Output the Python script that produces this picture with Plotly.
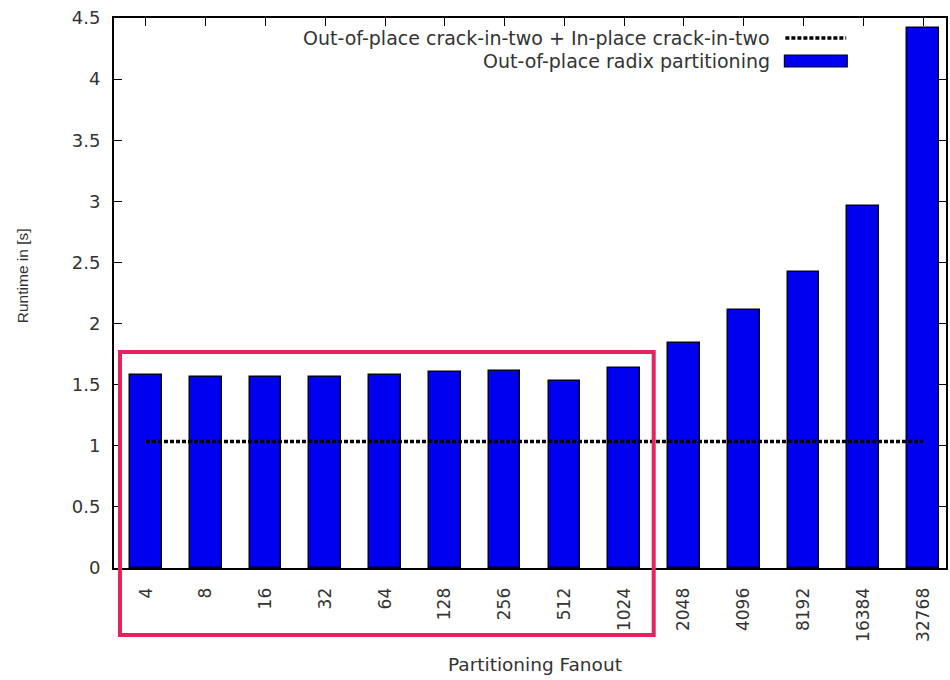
import plotly.graph_objects as go

# Partitioning fanout (x categories) and measured runtimes in seconds
fanouts = ["4", "8", "16", "32", "64", "128", "256", "512", "1024",
           "2048", "4096", "8192", "16384", "32768"]
radix_runtime = [1.58, 1.56, 1.56, 1.56, 1.58, 1.60, 1.61, 1.53, 1.64,
                 1.84, 2.11, 2.42, 2.965, 4.42]
crack_runtime = 1.035  # fanout-independent baseline

series_names = ["Out-of-place crack-in-two + In-place crack-in-two",
                "Out-of-place radix partitioning"]
y_ticks = [0, 0.5, 1, 1.5, 2, 2.5, 3, 3.5, 4, 4.5]

FONT = "DejaVu Sans"
TXT = "#333333"
BLUE = "#0000F0"

xpos = list(range(len(fanouts)))

fig = go.Figure()
fig.add_trace(go.Bar(
    x=xpos, y=radix_runtime, width=0.53,
    marker=dict(color=BLUE, line=dict(color="#000020", width=1.5)),
    name=series_names[1], showlegend=False,
))
fig.add_trace(go.Scatter(
    x=[xpos[0], xpos[-1]], y=[crack_runtime, crack_runtime],
    mode="lines", line=dict(color="black", width=3.5, dash="4px,2px"),
    name=series_names[0], showlegend=False,
))

# Plot area: 114..948 px horizontally, 18..568 px vertically
L, R, T, B = 114, 948, 18, 568
W, H = R - L, B - T

def px(x):
    return (x - L) / W

def py(y):
    return (B - y) / H

shapes = [
    # legend samples
    dict(type="line", xref="paper", yref="paper",
         x0=px(787), x1=px(848), y0=py(38), y1=py(38),
         line=dict(color="black", width=3.5, dash="4px,2px")),
    dict(type="rect", xref="paper", yref="paper",
         x0=px(786), x1=px(849), y0=py(67), y1=py(55),
         fillcolor=BLUE, line=dict(color="#000020", width=1.2)),
    # highlight box around the low fanouts
    dict(type="rect", xref="paper", yref="paper",
         x0=px(120), x1=px(655), y0=py(635), y1=py(352),
         line=dict(color="#E8215F", width=4), fillcolor="rgba(0,0,0,0)"),
]

annotations = [
    dict(text=series_names[0], xref="paper", yref="paper",
         x=px(774), y=py(38), xanchor="right", yanchor="middle",
         showarrow=False, font=dict(family=FONT, size=19, color=TXT)),
    dict(text=series_names[1], xref="paper", yref="paper",
         x=px(774), y=py(61), xanchor="right", yanchor="middle",
         showarrow=False, font=dict(family=FONT, size=19, color=TXT)),
    dict(text="Runtime in [s]", xref="paper", yref="paper",
         x=px(22), y=py(276), xanchor="center", yanchor="middle",
         textangle=-90, showarrow=False,
         font=dict(family="Liberation Sans", size=15.5, color=TXT)),
    dict(text="Partitioning Fanout", xref="paper", yref="paper",
         x=px(536), y=py(664), xanchor="center", yanchor="middle",
         showarrow=False, font=dict(family=FONT, size=18.5, color=TXT)),
]

fig.update_layout(
    width=950, height=680,
    margin=dict(l=L, r=950 - R, t=T, b=680 - B, pad=0),
    paper_bgcolor="white", plot_bgcolor="white",
    bargap=0,
    shapes=shapes, annotations=annotations,
    showlegend=False,
    font=dict(family=FONT, color=TXT),
)
fig.update_xaxes(
    range=[-0.535, 13.384], tickmode="array", tickvals=xpos, ticktext=fanouts,
    tickangle=-90, ticks="inside", ticklen=8, tickcolor="black",
    showline=True, linecolor="black", linewidth=2, mirror="ticks",
    showgrid=False, zeroline=False, layer="below traces",
    tickfont=dict(family=FONT, size=17, color=TXT), ticklabelstandoff=11,
)
fig.update_yaxes(
    range=[0, 4.5], tickmode="array", tickvals=y_ticks,
    ticks="inside", ticklen=8, tickcolor="black",
    showline=True, linecolor="black", linewidth=2, mirror="ticks",
    showgrid=False, zeroline=False,
    tickfont=dict(family=FONT, size=18, color=TXT), ticklabelstandoff=8,
)

fig.write_html("out.html")
